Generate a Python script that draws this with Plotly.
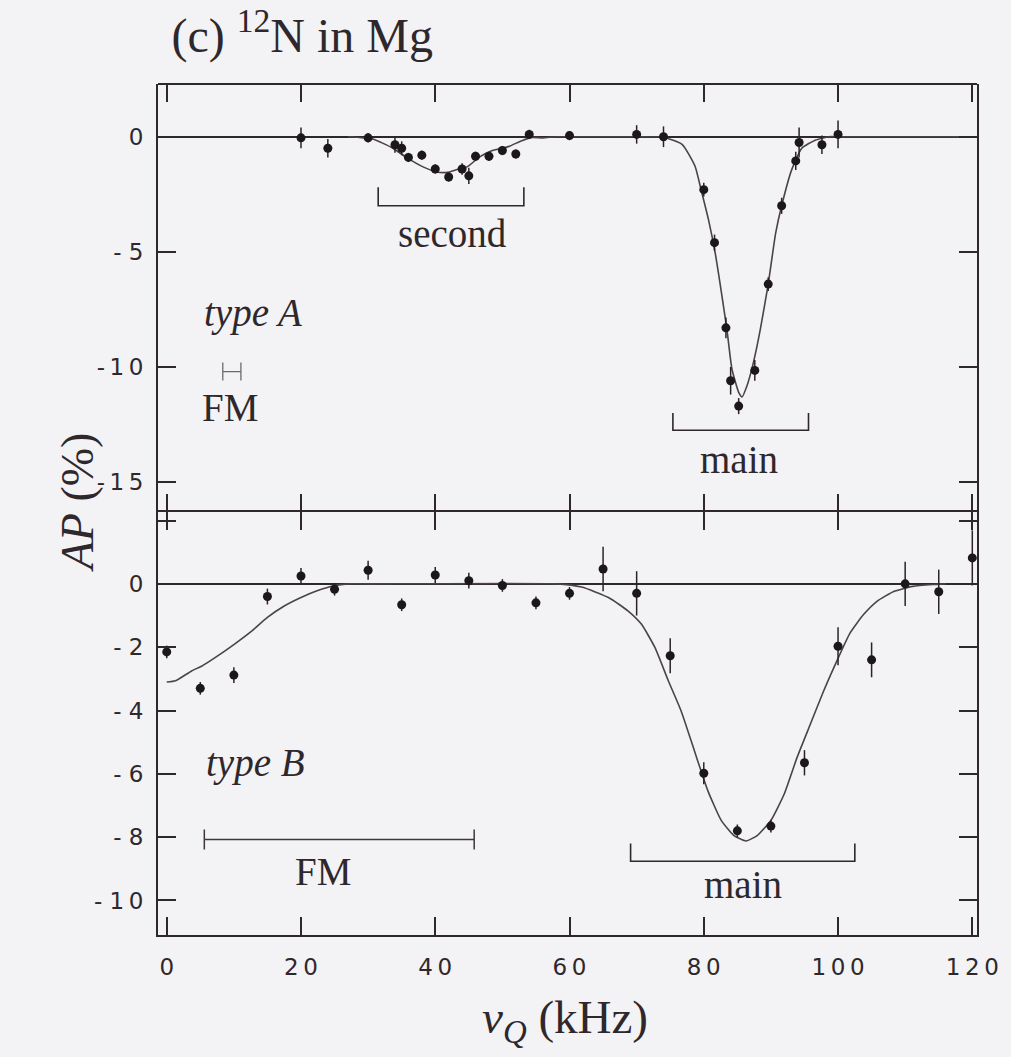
import plotly.graph_objects as go

# ---------------- data ----------------
# type A (top panel) measured points
xA = [20, 24, 30, 34, 35, 36, 38, 40, 42, 44, 45, 46, 48, 50, 52, 54, 60, 70, 74,
      80, 81.6, 83.3, 84, 85.2, 87.6, 89.6, 91.6, 93.7, 94.2, 97.6, 100]
yA = [-0.05, -0.5, -0.05, -0.35, -0.5, -0.9, -0.8, -1.4, -1.75, -1.4, -1.7, -0.85, -0.85,
      -0.6, -0.75, 0.1, 0.05, 0.1, 0.0,
      -2.3, -4.6, -8.3, -10.6, -11.7, -10.15, -6.4, -3.0, -1.05, -0.25, -0.35, 0.1]
eA = [0.45, 0.4, 0.2, 0.35, 0.3, 0.2, 0.2, 0.2, 0.2, 0.25, 0.35, 0.2, 0.2, 0.2, 0.2, 0.2,
      0.2, 0.4, 0.45, 0.3, 0.35, 0.45, 0.6, 0.35, 0.45, 0.3, 0.35, 0.4, 0.65, 0.4, 0.6]

# type A fitted curve
fitA_x = [27, 30.7, 33.7, 35.7, 38.1, 40.1, 41.8, 43.5, 44.8, 46.5, 48.5, 50.9, 52.9, 54.4,
          56, 58, 60, 70, 74, 76.8, 78.7, 79.6, 80.7, 81.7, 82.7, 83.5, 84.2, 85.2, 85.7,
          86.4, 87.4, 88.4, 89.6, 90.7, 91.6, 93.1, 94.6, 96.6, 98.6, 100, 121]
fitA_y = [0, -0.1, -0.5, -0.9, -1.3, -1.52, -1.55, -1.4, -1.3, -0.9, -0.6, -0.43, -0.17, -0.03,
          -0.05, 0, 0, 0, -0.02, -0.34, -1.28, -2.3, -3.6, -5.05, -6.9, -8.5, -10.1, -11.1, -11.3,
          -10.85, -9.8, -8.4, -6.4, -4.2, -3.0, -1.43, -0.5, -0.15, 0, 0, 0]

# type B (bottom panel) measured points
xB = [0, 5, 10, 15, 20, 25, 30, 35, 40, 45, 50, 55, 60, 65, 70, 75, 80, 85, 90, 95,
      100, 105, 110, 115, 120]
yB = [-2.15, -3.3, -2.88, -0.4, 0.25, -0.17, 0.43, -0.66, 0.28, 0.1, -0.05, -0.6, -0.3,
      0.47, -0.3, -2.27, -5.98, -7.8, -7.65, -5.65, -1.97, -2.4, 0.0, -0.25, 0.82]
eB = [0.2, 0.2, 0.25, 0.25, 0.25, 0.2, 0.3, 0.2, 0.25, 0.25, 0.2, 0.2, 0.2, 0.7, 0.7,
      0.55, 0.35, 0.2, 0.2, 0.4, 0.6, 0.55, 0.7, 0.7, 0.87]

# type B fitted curve
fitB_x = [0, 1.3, 3.7, 5.2, 7.2, 10.1, 12.6, 15.0, 17.5, 20.0, 22.4, 24.9, 27.3, 31, 58,
          61.8, 65.8, 68.7, 70.7, 72.7, 74.7, 76.6, 78.6, 80.6, 82.6, 84.5, 86.3, 88.0, 90.0,
          92.0, 93.9, 95.9, 97.9, 99.9, 101.8, 103.8, 105.8, 108.3, 111.1, 114.1, 116]
fitB_y = [-3.1, -3.06, -2.75, -2.6, -2.33, -1.9, -1.5, -1.06, -0.7, -0.43, -0.22, -0.06, 0, 0, 0,
          -0.1, -0.43, -0.85, -1.27, -2.0, -3.05, -4.0, -5.27, -6.53, -7.47, -7.95, -8.12, -7.94,
          -7.47, -6.63, -5.48, -4.42, -3.36, -2.4, -1.55, -0.97, -0.55, -0.24, -0.08, -0.02, 0]

# FM resolution bars (centre, half width, level)
fmA = dict(x=[9.7], hw=[1.35], y=[-10.2])
fmB = dict(x=[25.7], hw=[20.1], y=[-8.07])

# brackets: (x_start, x_end, y_bar, y_tip)
bracket_second = [31.5, 53.2, -3.0, -2.2]
bracket_mainA = [75.4, 95.6, -12.75, -12.0]
bracket_mainB = [69.1, 102.5, -8.76, -8.2]

# ticks
x_ticks = [0, 20, 40, 60, 80, 100, 120]
x_ticktext = ["0", "2\u20090", "4\u20090", "6\u20090", "8\u20090", "1\u20090\u20090", "1\u20092\u20090"]
yA_ticks = [0, -5, -10, -15]
yA_ticktext = ["0", "- 5", "-\u20091\u20090", "-\u20091\u20095"]
yB_ticks = [0, -2, -4, -6, -8, -10]
yB_ticktext = ["0", "- 2", "- 4", "- 6", "- 8", "- 1\u20090"]
yB_extra_ticks = [2]

# ---------------- styling ----------------
INK = "#2e282c"
BG = "#f3f2f4"
SERIF = "Liberation Serif"
SANS = "DejaVu Sans"

fig = go.Figure()

# curves
fig.add_trace(go.Scatter(x=fitA_x, y=fitA_y, mode="lines", xaxis="x", yaxis="y",
                         line=dict(color="#4a4347", width=1.6, shape="spline", smoothing=0.5),
                         hoverinfo="skip"))
fig.add_trace(go.Scatter(x=fitB_x, y=fitB_y, mode="lines", xaxis="x2", yaxis="y2",
                         line=dict(color="#4a4347", width=1.6, shape="spline", smoothing=0.5),
                         hoverinfo="skip"))

# points
fig.add_trace(go.Scatter(x=xA, y=yA, mode="markers", xaxis="x", yaxis="y",
                         marker=dict(size=9, color="#1c1719"),
                         error_y=dict(type="data", array=eA, visible=True, color="#2a2427",
                                      thickness=1.5, width=0)))
fig.add_trace(go.Scatter(x=xB, y=yB, mode="markers", xaxis="x2", yaxis="y2",
                         marker=dict(size=9, color="#1c1719"),
                         error_y=dict(type="data", array=eB, visible=True, color="#2a2427",
                                      thickness=1.5, width=0)))

# FM resolution bars
fig.add_trace(go.Scatter(x=fmA["x"], y=fmA["y"], mode="markers", xaxis="x", yaxis="y",
                         marker=dict(size=1, color="rgba(0,0,0,0)"),
                         error_x=dict(type="data", array=fmA["hw"], visible=True, color="#6e686c",
                                      thickness=1.3, width=9)))
fig.add_trace(go.Scatter(x=fmB["x"], y=fmB["y"], mode="markers", xaxis="x2", yaxis="y2",
                         marker=dict(size=1, color="rgba(0,0,0,0)"),
                         error_x=dict(type="data", array=fmB["hw"], visible=True, color="#3e383c",
                                      thickness=1.5, width=10)))


def bracket_path(b):
    x0, x1, yb, yt = b
    return f"M {x0},{yt} L {x0},{yb} L {x1},{yb} L {x1},{yt}"


shapes = [
    dict(type="path", path=bracket_path(bracket_second), xref="x", yref="y",
         line=dict(color=INK, width=1.6)),
    dict(type="path", path=bracket_path(bracket_mainA), xref="x", yref="y",
         line=dict(color=INK, width=1.6)),
    dict(type="path", path=bracket_path(bracket_mainB), xref="x2", yref="y2",
         line=dict(color=INK, width=1.6)),
    # top frame edge of the upper panel
    dict(type="line", xref="paper", yref="paper", x0=0, x1=1, y0=1, y1=1,
         line=dict(color=INK, width=2)),
]

txt = dict(family=SERIF, size=39, color=INK)
annotations = [
    dict(text="second", x=42.5, y=-4.2, xref="x", yref="y", showarrow=False, font=txt),
    dict(text="main", x=85.3, y=-14.0, xref="x", yref="y", showarrow=False, font=txt),
    dict(text="<i>type A</i>", x=12.8, y=-7.67, xref="x", yref="y", showarrow=False, font=txt),
    dict(text="FM", x=9.4, y=-11.75, xref="x", yref="y", showarrow=False, font=txt),
    dict(text="<i>type B</i>", x=13.2, y=-5.66, xref="x2", yref="y2", showarrow=False, font=txt),
    dict(text="FM", x=23.3, y=-9.09, xref="x2", yref="y2", showarrow=False, font=txt),
    dict(text="main", x=85.8, y=-9.5, xref="x2", yref="y2", showarrow=False, font=txt),
    # axis titles
    dict(text="<i>AP</i> (%)", x=-0.132, y=0.509, xref="paper", yref="paper", showarrow=False,
         textangle=-90, font=dict(family=SERIF, size=46, color=INK)),
    dict(text="<i>ν</i><sub><i>Q</i></sub> (kHz)", x=0.497, y=-0.1, xref="paper", yref="paper",
         showarrow=False, yanchor="middle", font=dict(family=SERIF, size=47, color=INK)),
]

axis_common = dict(showline=True, linecolor=INK, linewidth=2, mirror="ticks", ticks="inside",
                   tickcolor=INK, tickwidth=1.6, ticklen=18, showgrid=False, zeroline=False,
                   tickfont=dict(family=SANS, size=23, color=INK))

split = 423 / 851
fig.update_layout(
    width=1011, height=1057,
    margin=dict(l=158, r=26, t=84, b=122),
    paper_bgcolor=BG, plot_bgcolor=BG,
    showlegend=False,
    title=dict(text="(c) <sup>12</sup>N in Mg", x=0.299, xanchor="center", y=0.967,
               yanchor="middle", font=dict(family=SERIF, size=48, color=INK)),
    xaxis=dict(axis_common, domain=[0, 1], range=[-1.3, 120.7], anchor="y",
               tickvals=x_ticks, showticklabels=False, showline=False),
    yaxis=dict(axis_common, domain=[split, 1], range=[-16.3, 2.29], anchor="x",
               tickvals=yA_ticks, ticktext=yA_ticktext, ticklabelstandoff=8,
               zeroline=True, zerolinecolor=INK, zerolinewidth=1.6),
    xaxis2=dict(axis_common, domain=[0, 1], range=[-1.3, 120.7], anchor="y2",
                tickvals=x_ticks, ticktext=x_ticktext, ticklabelstandoff=10),
    yaxis2=dict(axis_common, domain=[0, split], range=[-11.09, 2.27], anchor="x2",
                tickvals=yB_ticks, ticktext=yB_ticktext, ticklabelstandoff=8,
                minor=dict(tickmode="array", tickvals=yB_extra_ticks, ticks="inside",
                           ticklen=18, tickwidth=1.6, tickcolor=INK),
                zeroline=True, zerolinecolor=INK, zerolinewidth=1.6),
    shapes=shapes,
    annotations=annotations,
)

fig.write_html("out.html")
